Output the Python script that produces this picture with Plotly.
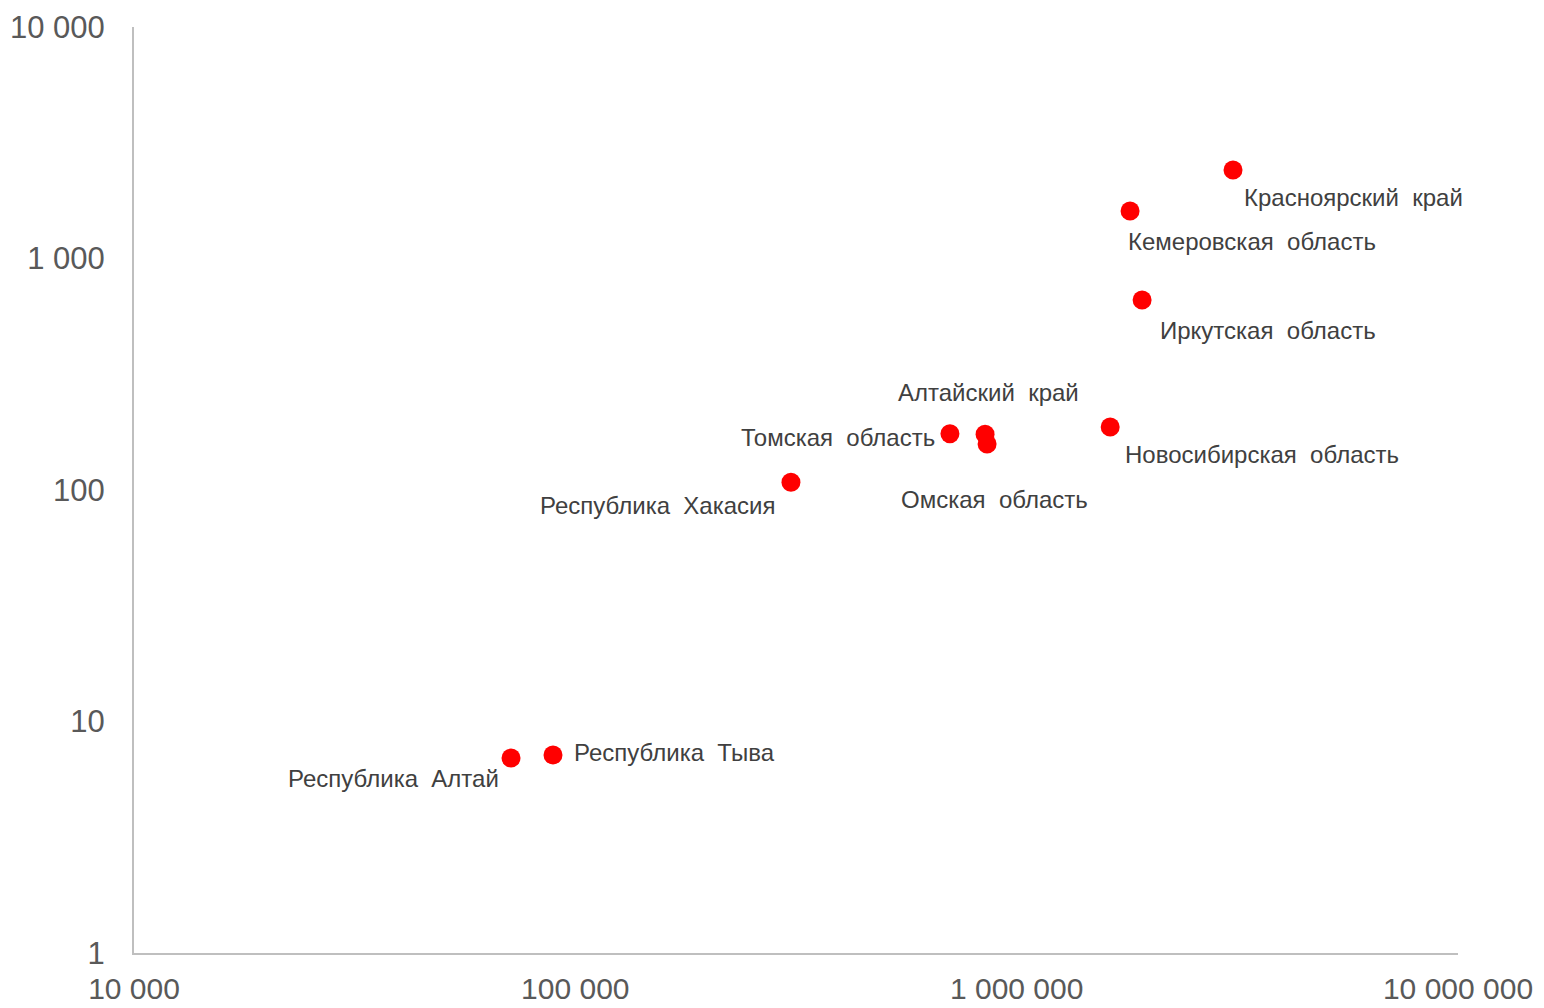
import math
import plotly.graph_objects as go

# Regions of the Siberian Federal District
regions = [
    "Республика Алтай", "Республика Тыва", "Республика Хакасия",
    "Томская область", "Алтайский край", "Омская область",
    "Новосибирская область", "Кемеровская область",
    "Иркутская область", "Красноярский край",
]
x_values = [71500, 89000, 308000, 706000, 848000, 857000,
            1629000, 1807000, 1924000, 3092000]
y_values = [6.95, 7.17, 108, 175, 174, 158, 187, 1604, 662, 2411]

x_tickvals = [10000, 100000, 1000000, 10000000]
x_ticktext = ["10 000", "100 000", "1 000 000", "10 000 000"]
y_tickvals = [1, 10, 100, 1000, 10000]
y_ticktext = ["1", "10", "100", "1 000", "10 000"]

# label placement: (xanchor, xshift, yshift)
label_pos = [
    ("right", -10, -20),
    ("left", 19, 2),
    ("right", -13, -23),
    ("right", -13, -4),
    ("center", 3, 42),
    ("center", 7, -55),
    ("left", 13, -27),
    ("left", -4, -30),
    ("left", 16, -31),
    ("left", 9, -27),
]

fig = go.Figure()
fig.add_trace(go.Scatter(
    x=x_values, y=y_values, mode="markers",
    marker=dict(color="#ff0000", size=19),
    hoverinfo="skip",
))

for name, xv, yv, (anchor, dx, dy) in zip(regions, x_values, y_values, label_pos):
    fig.add_annotation(
        x=math.log10(xv), y=math.log10(yv), xref="x", yref="y",
        text=name.replace(" ", "&nbsp;&nbsp;"), showarrow=False,
        xanchor=anchor, yanchor="middle", xshift=dx, yshift=dy,
        font=dict(family="Liberation Sans, Arial", size=24, color="#404040"),
    )

axis_common = dict(
    type="log", showgrid=False, zeroline=False, showline=True,
    linecolor="#bfbfbf", linewidth=2, ticks="", automargin=False,
)

fig.update_layout(
    width=1544, height=1008,
    margin=dict(l=134, r=86, t=27, b=55),
    paper_bgcolor="white", plot_bgcolor="white",
    showlegend=False,
    xaxis=dict(range=[4, 7], tickvals=x_tickvals, ticktext=x_ticktext,
               ticklabelstandoff=8,
               tickfont=dict(family="Liberation Sans, Arial", size=30,
                             color="#595959"),
               **axis_common),
    yaxis=dict(range=[0, 4], tickvals=y_tickvals, ticktext=y_ticktext,
               ticklabelstandoff=21,
               tickfont=dict(family="Liberation Sans, Arial", size=31,
                             color="#595959"),
               **axis_common),
)

fig.write_html("out.html")
